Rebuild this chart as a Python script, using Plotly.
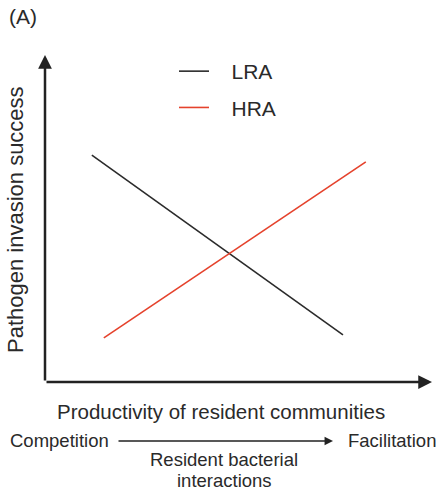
import plotly.graph_objects as go

# conceptual lines: productivity (x) vs invasion success (y), arbitrary 0-10 scale
series_names = ["LRA", "HRA"]
lra_x = [1.21, 7.70]
lra_y = [6.94, 1.44]
hra_x = [1.52, 8.29]
hra_y = [1.35, 6.73]

FONT = "Liberation Sans, Arial, sans-serif"
TEXT = "#2a2a2a"

fig = go.Figure()
fig.add_trace(go.Scatter(x=lra_x, y=lra_y, mode="lines", name="\u00a0\u00a0\u00a0" + series_names[0],
                         line=dict(color="#2b2b2b", width=1.6), legendgroup="a"))
fig.add_trace(go.Scatter(x=hra_x, y=hra_y, mode="lines", name="\u00a0\u00a0\u00a0" + series_names[1],
                         line=dict(color="#e5422c", width=1.6), legendgroup="b"))

# axis arrows
fig.add_annotation(x=10, y=0, ax=0, ay=0, xref="x", yref="y", axref="x", ayref="y",
                   showarrow=True, arrowhead=2, arrowsize=1.1, arrowwidth=2.5, arrowcolor="#222", text="")
fig.add_annotation(x=0, y=10, ax=0, ay=0, xref="x", yref="y", axref="x", ayref="y",
                   showarrow=True, arrowhead=2, arrowsize=1.1, arrowwidth=2.5, arrowcolor="#222", text="")

# bottom interaction arrow
fig.add_annotation(x=(333 - 45) / 387, y=(382 - 441) / 327, xref="paper", yref="paper",
                   ax=-216, ay=0, showarrow=True, arrowhead=2, arrowsize=1.3, arrowwidth=1.3,
                   arrowcolor="#222", text="")

labels = [
    ("(A)", 23, 17, 21),
    ("Productivity of resident communities", 221, 411, 20.5),
    ("Competition", 59, 441, 18.5),
    ("Facilitation", 392, 441, 18.5),
    ("Resident bacterial", 224, 459, 18.5),
    ("interactions", 224, 480, 18.5),
]
for txt, px, py, sz in labels:
    fig.add_annotation(x=(px - 45) / 387, y=(382 - py) / 327, xref="paper", yref="paper",
                       text=txt, showarrow=False, font=dict(family=FONT, size=sz, color=TEXT),
                       xanchor="center", yanchor="middle")

fig.add_annotation(x=(15 - 45) / 387, y=(382 - 220) / 327, xref="paper", yref="paper",
                   text="Pathogen invasion success", textangle=-90, showarrow=False,
                   font=dict(family=FONT, size=22, color=TEXT), xanchor="center", yanchor="middle")

fig.update_layout(
    width=438, height=494,
    margin=dict(l=45, r=6, t=55, b=112),
    paper_bgcolor="white", plot_bgcolor="white",
    xaxis=dict(range=[0, 10], visible=False, fixedrange=True),
    yaxis=dict(range=[0, 10], visible=False, fixedrange=True),
    showlegend=True,
    legend=dict(x=(174 - 45) / 387, y=(382 - 51) / 327, xanchor="left", yanchor="top",
                font=dict(family=FONT, size=21, color=TEXT), bgcolor="rgba(0,0,0,0)",
                traceorder="grouped", tracegroupgap=6),
)

# drop the default 8px page margin so the figure sits at the window corner
fig.write_html("out.html", config={"displayModeBar": False},
               post_script="document.body.style.margin='0';")
